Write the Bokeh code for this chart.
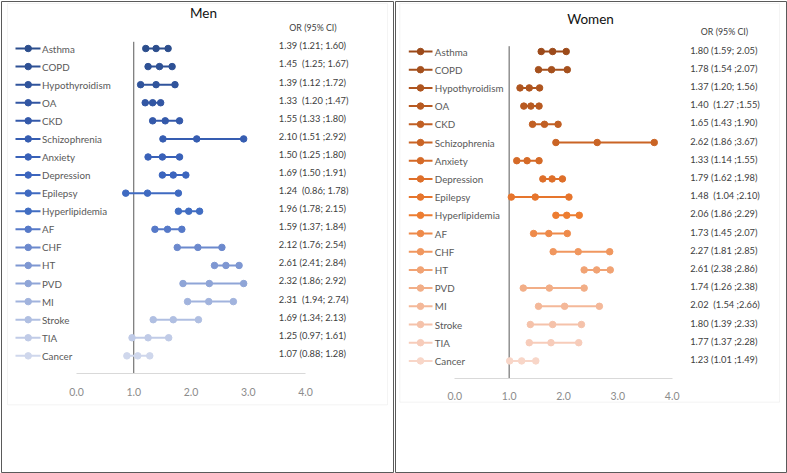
from bokeh.plotting import figure
from bokeh.layouts import row
from bokeh.models import (ColumnDataSource, Range1d, LinearAxis, FixedTicker,
                          NumeralTickFormatter, Label, BoxAnnotation)
from bokeh.embed import file_html
from bokeh.resources import INLINE
from bokeh.core.properties import value

# ---------------- data ----------------
categories = ["Asthma", "COPD", "Hypothyroidism", "OA", "CKD", "Schizophrenia",
              "Anxiety", "Depression", "Epilepsy", "Hyperlipidemia", "AF", "CHF",
              "HT", "PVD", "MI", "Stroke", "TIA", "Cancer"]

men_or = [1.39, 1.45, 1.39, 1.33, 1.55, 2.10, 1.50, 1.69, 1.24, 1.96, 1.59, 2.12,
          2.61, 2.32, 2.31, 1.69, 1.25, 1.07]
men_lo = [1.21, 1.25, 1.12, 1.20, 1.33, 1.51, 1.25, 1.50, 0.86, 1.78, 1.37, 1.76,
          2.41, 1.86, 1.94, 1.34, 0.97, 0.88]
men_hi = [1.60, 1.67, 1.72, 1.47, 1.80, 2.92, 1.80, 1.91, 1.78, 2.15, 1.84, 2.54,
          2.84, 2.92, 2.74, 2.13, 1.61, 1.28]
men_text = ["1.39 (1.21; 1.60)", "1.45\u00a0 (1.25; 1.67)", "1.39 (1.12 ;1.72)",
            "1.33\u00a0 (1.20 ;1.47)", "1.55 (1.33 ;1.80)", "2.10 (1.51 ;2.92)",
            "1.50 (1.25 ;1.80)", "1.69 (1.50 ;1.91)", "1.24\u00a0 (0.86; 1.78)",
            "1.96 (1.78; 2.15)", "1.59 (1.37; 1.84)", "2.12 (1.76; 2.54)",
            "2.61 (2.41; 2.84)", "2.32 (1.86; 2.92)", "2.31\u00a0 (1.94; 2.74)",
            "1.69 (1.34; 2.13)", "1.25 (0.97; 1.61)", "1.07 (0.88; 1.28)"]

women_or = [1.80, 1.78, 1.37, 1.40, 1.65, 2.62, 1.33, 1.79, 1.48, 2.06, 1.73, 2.27,
            2.61, 1.74, 2.02, 1.80, 1.77, 1.23]
women_lo = [1.59, 1.54, 1.20, 1.27, 1.43, 1.86, 1.14, 1.62, 1.04, 1.86, 1.45, 1.81,
            2.38, 1.26, 1.54, 1.39, 1.37, 1.01]
women_hi = [2.05, 2.07, 1.56, 1.55, 1.90, 3.67, 1.55, 1.98, 2.10, 2.29, 2.07, 2.85,
            2.86, 2.38, 2.66, 2.33, 2.28, 1.49]
women_text = ["1.80 (1.59; 2.05)", "1.78 (1.54 ;2.07)", "1.37 (1.20; 1.56)",
              "1.40\u00a0 (1.27 ;1.55)", "1.65 (1.43 ;1.90)", "2.62 (1.86 ;3.67)",
              "1.33 (1.14 ;1.55)", "1.79 (1.62 ;1.98)", "1.48\u00a0 (1.04 ;2.10)",
              "2.06 (1.86 ;2.29)", "1.73 (1.45 ;2.07)", "2.27 (1.81 ;2.85)",
              "2.61 (2.38 ;2.86)", "1.74 (1.26 ;2.38)", "2.02\u00a0 (1.54 ;2.66)",
              "1.80 (1.39 ;2.33)", "1.77 (1.37 ;2.28)", "1.23 (1.01 ;1.49)"]

tick_values = [0, 1, 2, 3, 4]
header_text = "OR (95% CI)"

# ---------------- styles ----------------
men_colors = ["#2C4E8D", "#2E5195", "#30549C", "#3256A3", "#3459AA", "#365DB1",
              "#3961B8", "#3C65BE", "#3F6AC1", "#416DC2", "#5679C8", "#6C89CD",
              "#7E97D2", "#8FA5D7", "#A1B3DD", "#B0BFE2", "#C0CBE7", "#CFD7EC"]
women_colors = ["#9C4A1A", "#A5501D", "#AF551F", "#B85A21", "#C15F23", "#CA6425",
                "#D56A27", "#DE6F2A", "#E6752D", "#ED7D31", "#EE8A4A", "#F0975F",
                "#F1A374", "#F2AE87", "#F4B899", "#F5C2AA", "#F7CCBA", "#F8D6C8"]

FONT = "Lato"
FONT_V = value(FONT)
W_MEN, W_WOMEN, H = 394, 393, 473

men_geo = dict(L=0, R=394, or0=76.0, or4=305.0, row0=48.0, step=18.08, axis=373.0,
               vtop=41.3, lx0=15.0, lx1=40.0, lm=27.7, lab=41.5, ort=278.3,
               hx=312.5, hy=27.0, tx=203.0, ty=12.5, box=(7, 387, 3, 404.3),
               text_off=2.6, standoff=8)
women_geo = dict(L=394, R=787, or0=454.3, or4=671.7, row0=51.0, step=18.2, axis=378.3,
                 vtop=45.7, lx0=408.3, lx1=432.0, lm=420.0, lab=434.3, ort=689.7,
                 hx=724.0, hy=30.7, tx=590.0, ty=18.5, box=(399.3, 779, 3, 401.7),
                 text_off=1.5, standoff=7)


def build(title, ors, los, his, texts, colors, g, W):
    unit = (g["or4"] - g["or0"]) / 4.0

    def X(px):
        return (px - g["or0"]) / unit

    def Y(py):
        return (py - g["row0"]) / g["step"]

    # frame spans canvas pixels 1 .. W-1 / 1 .. H-1 (min_border = 1)
    p = figure(width=W, height=H, output_backend="svg", toolbar_location=None,
               x_range=Range1d(X(g["L"] + 1), X(g["L"] + W - 1)),
               y_range=Range1d(Y(H - 1), Y(1)),
               x_axis_type=None, y_axis_type=None, min_border=1,
               outline_line_color="#5A5A5A", outline_line_width=1,
               background_fill_color="white", border_fill_color="white")

    ys = list(range(len(categories)))
    src = ColumnDataSource(dict(
        y=ys, ty=[v - g["text_off"] / g["step"] for v in ys],
        cat=categories, lo=los, mid=ors, hi=his, txt=texts, color=colors))

    bl, br, bt, bb = g["box"]
    p.add_layout(BoxAnnotation(left=X(bl), right=X(br), top=Y(bt), bottom=Y(bb),
                               fill_alpha=0, line_color="#D9D9D9", line_width=1))

    # reference line at OR = 1
    p.segment(x0=[1.0], x1=[1.0], y0=[Y(g["vtop"])], y1=[Y(g["axis"])],
              line_color="#595959", line_width=1)

    # CI lines and points
    p.segment(x0="lo", x1="hi", y0="y", y1="y", line_color="color", line_width=2,
              source=src)
    for col in ("lo", "mid", "hi"):
        p.scatter(x=col, y="y", size=6.5, fill_color="color", line_color="color",
                  source=src)

    # legend
    p.segment(x0=X(g["lx0"]), x1=X(g["lx1"]), y0="y", y1="y", line_color="color",
              line_width=2, source=src)
    p.scatter(x=X(g["lm"]), y="y", size=6.5, fill_color="color", line_color="color",
              source=src)
    p.text(x=X(g["lab"]), y="y", text="cat", source=src, text_font=FONT_V,
           text_font_size="9.8px", text_color="#595959", text_baseline="middle",
           text_align="left")

    # OR (95% CI) column
    p.text(x=X(g["ort"]), y="ty", text="txt", source=src, text_font=FONT_V,
           text_font_size="9.3px", text_color="#404040", text_baseline="middle",
           text_align="left")
    p.add_layout(Label(x=X(g["hx"]), y=Y(g["hy"]), text=header_text,
                       text_font=FONT, text_font_size="8.8px", text_color="#404040",
                       text_align="center", text_baseline="middle"))
    p.add_layout(Label(x=X(g["tx"]), y=Y(g["ty"]), text=title, text_font=FONT,
                       text_font_size="13.5px", text_color="#111111",
                       text_align="center", text_baseline="middle"))

    ax = LinearAxis(fixed_location=Y(g["axis"]), bounds=(0, 4),
                    ticker=FixedTicker(ticks=tick_values),
                    formatter=NumeralTickFormatter(format="0.0"),
                    axis_line_color="#D9D9D9", axis_line_width=1,
                    major_tick_line_color=None, minor_tick_line_color=None,
                    major_label_text_color="#8C8C8C", major_label_text_font=FONT,
                    major_label_text_font_size="10.5px",
                    major_label_standoff=g["standoff"])
    p.add_layout(ax, "below")
    return p


p_men = build("Men", men_or, men_lo, men_hi, men_text, men_colors, men_geo, W_MEN)
p_women = build("Women", women_or, women_lo, women_hi, women_text, women_colors,
                women_geo, W_WOMEN)

layout = row(p_men, p_women, spacing=0)
open("out.html", "w").write(file_html(layout, INLINE))
